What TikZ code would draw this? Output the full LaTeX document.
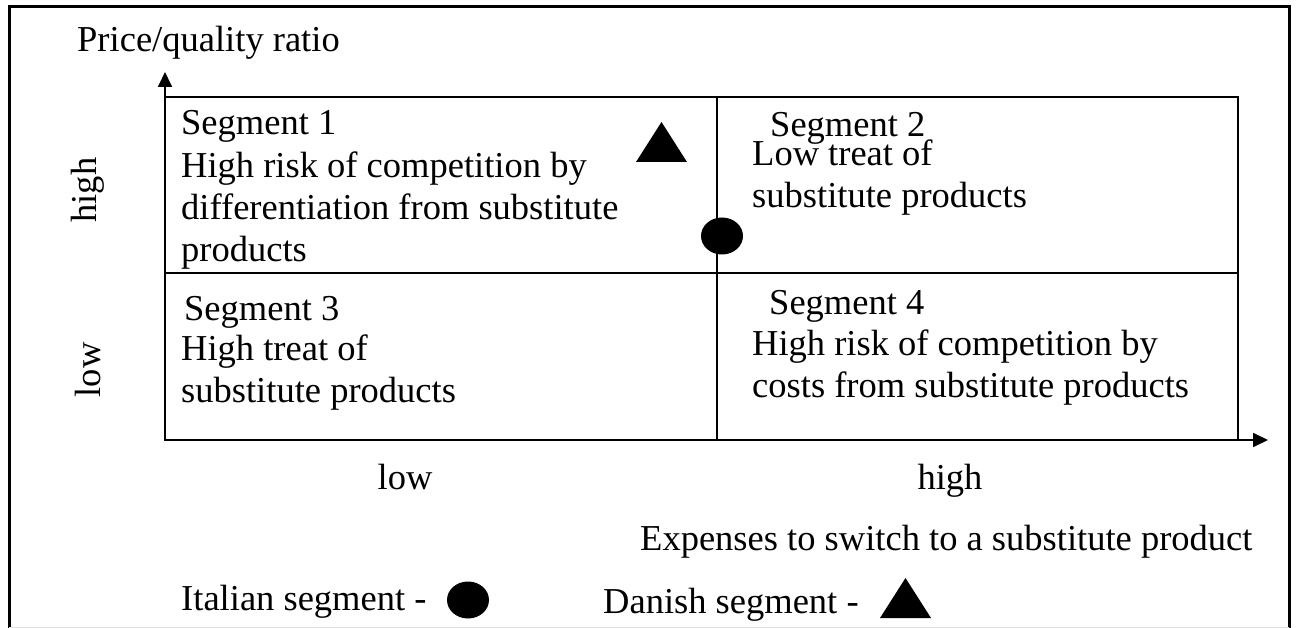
\documentclass[tikz,border=0pt]{standalone}
\usepackage{fontspec}
\setmainfont{Liberation Serif}
\usetikzlibrary{arrows.meta}

\tikzset{
  lbl/.style={font=\fontsize{36.5}{42}\selectfont, inner sep=0pt, anchor=base west, align=left},
  italian/.pic={\fill (0,0) ellipse [x radius=21, y radius=18.5];},
  danish/.pic={\fill (-25.5,20) -- (25.5,20) -- (0,-20) -- cycle;}
}

\begin{document}
\begin{tikzpicture}[x=1pt,y=-1pt]
        \useasboundingbox (0,0) rectangle (1296,628);
        % frame
        \draw[line width=3pt] (9,628) -- (9,7) -- (1289,7) -- (1289,628);
        \draw[black!12, line width=1pt] (9,627) -- (1289,627);
        % axes and quadrants
        \draw[line width=1.8pt, {Triangle[length=15pt,width=14pt]}-{Triangle[length=15pt,width=14pt]}] (165,72) |- (1268,440);
        \draw[line width=1.8pt] (165,97) -- (1238,97) -- (1238,440);
        \draw[line width=1.8pt] (717,97) -- (717,440);
        \draw[line width=1.8pt] (165,273) -- (1238,273);
        % axis labels
        \node[lbl] (ylabel) at (77,52) {Price/quality ratio};
        \node[lbl, anchor=center, rotate=90] (yhigh) at (88,190) {high};
        \node[lbl, anchor=center, rotate=90] (ylow) at (88,370) {low};
        \node[lbl, anchor=base] (xlow) at (405,489) {low};
        \node[lbl, anchor=base] (xhigh) at (950,489) {high};
        \node[lbl] (xlabel) at (640,550) {Expenses to switch to a substitute product};
        % segments (multi-line nodes sit on their last baseline)
        \node[lbl] (seg1) at (181,135) {Segment 1};
        \node[lbl] (seg1txt) at (181,262) {High risk of competition by\\differentiation from substitute\\products};
        \node[lbl] (seg2) at (770,137) {Segment 2};
        \node[lbl] (seg2txt) at (752,208) {Low treat of\\substitute products};
        \node[lbl] (seg3) at (184,320) {Segment 3};
        \node[lbl] (seg3txt) at (181,402) {High treat of\\substitute products};
        \node[lbl] (seg4) at (769,315) {Segment 4};
        \node[lbl] (seg4txt) at (752,397) {High risk of competition by\\costs from substitute products};
        % markets
        \pic at (661.5,142) {danish};
        \pic at (722,236) {italian};
        % legend
        \node[lbl] (itleg) at (181,610) {Italian segment -};
        \pic at (468,600) {italian};
        \node[lbl] (dkleg) at (603,613) {Danish segment -};
        \pic at (905.5,598) {danish};
    \end{tikzpicture}
\end{document}
